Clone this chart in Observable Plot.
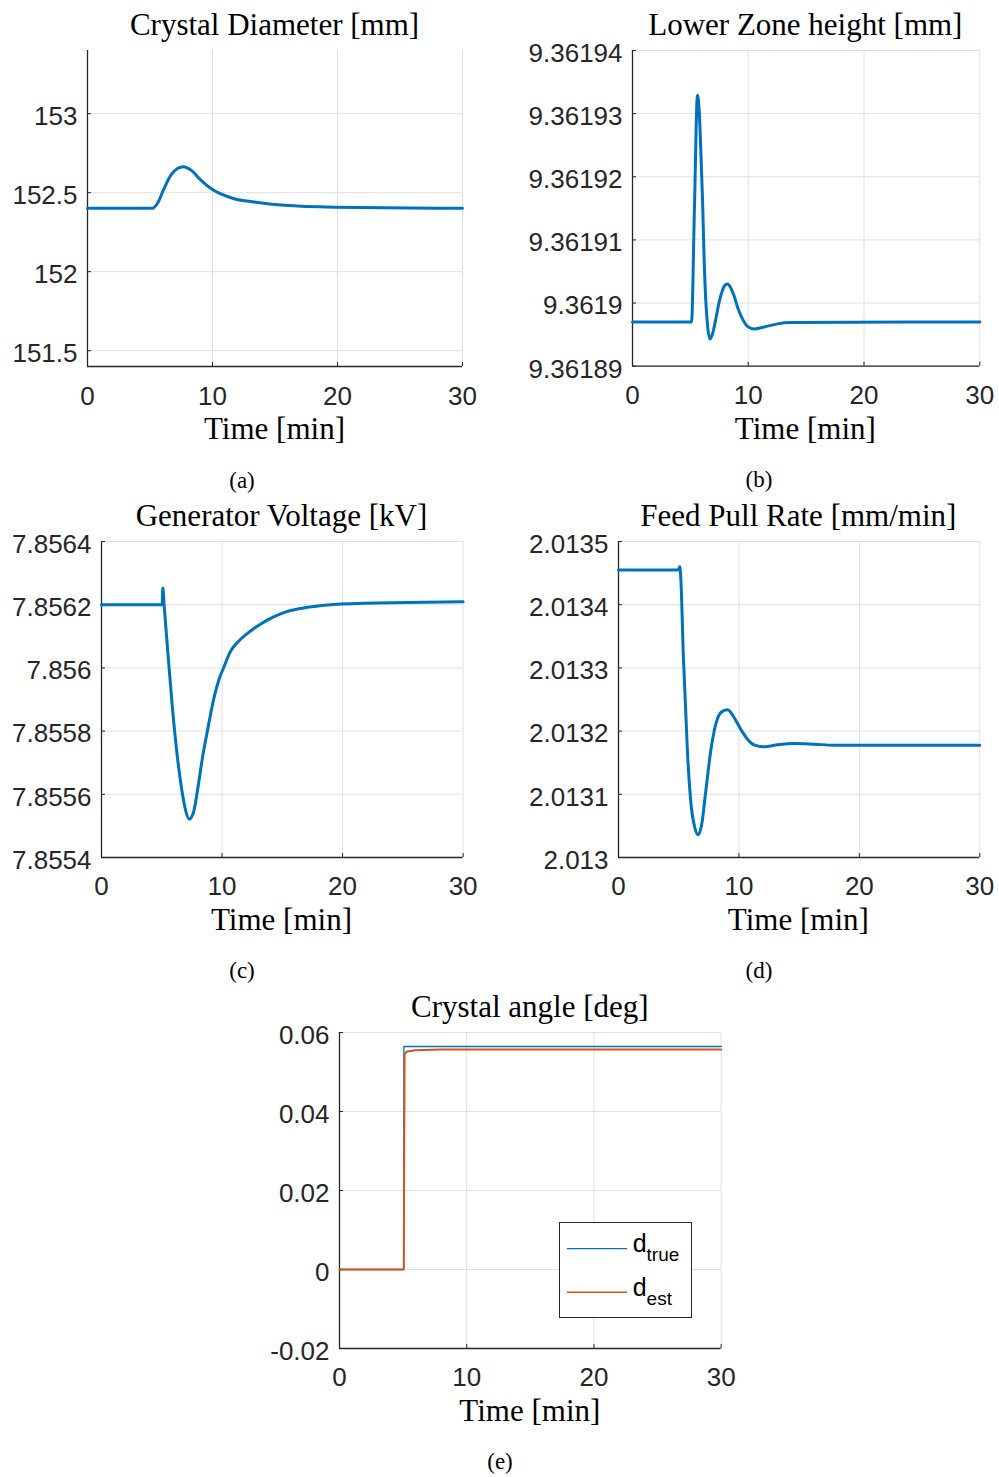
<!DOCTYPE html>
<html><head><meta charset="utf-8">
<script src="https://cdn.jsdelivr.net/npm/d3@7"></script>
<script src="https://cdn.jsdelivr.net/npm/@observablehq/plot@0.6"></script>
<style>
body{margin:0;background:#fff;}
#fig{position:relative;width:999px;height:1477px;background:#fff;overflow:hidden;}
.t{position:absolute;font-family:"Liberation Serif","Times New Roman",serif;color:#000;white-space:nowrap;line-height:1;transform:translateX(-50%);}
.p{position:absolute;}
.p text{font-family:"Liberation Sans",Arial,sans-serif;}
.lg{position:absolute;font-family:"Liberation Sans",Arial,sans-serif;color:#000;line-height:1;white-space:nowrap;}
</style></head><body><div id="fig"></div><script>
// ---------- data ----------
const timeTicks = [0, 10, 20, 30];
const timeTickLabels = ["0", "10", "20", "30"];

// (a) Crystal Diameter [mm]
const diamTime  = [0, 5.2, 5.6, 6.13, 6.67, 7.2, 7.68, 8.27, 9.07, 9.87, 10.67, 11.73, 13.33, 15.73, 19.73, 30];
const diamValue = [152.401, 152.401, 152.433, 152.527, 152.611, 152.653, 152.664, 152.643, 152.58, 152.527, 152.492, 152.462, 152.441, 152.42, 152.408, 152.401];
const diamTicks = [151.5, 152, 152.5, 153];
const diamTickLabels = ["151.5", "152", "152.5", "153"];

// (b) Lower Zone height [mm]
const lzTime  = [0, 5.1, 5.35, 5.61, 5.76, 5.9, 6.05, 6.19, 6.33, 6.48, 6.68, 6.91, 7.2, 7.49, 7.77, 7.97, 8.2, 8.49, 8.78, 9.12, 9.5, 9.93, 10.51, 11.37, 12.52, 13.67, 30];
const lzValue = [9.3618970, 9.3618970, 9.3619150, 9.3619329, 9.3619305, 9.3619242, 9.3619163, 9.3619068, 9.3619004, 9.3618965, 9.3618943, 9.3618951, 9.3618975, 9.3619002, 9.3619020, 9.3619028, 9.3619030, 9.3619024, 9.3619011, 9.3618991, 9.3618975, 9.3618963, 9.3618959, 9.3618962, 9.3618967, 9.3618969, 9.3618970];
const lzTicks = [9.36189, 9.3619, 9.36191, 9.36192, 9.36193, 9.36194];
const lzTickLabels = ["9.36189", "9.3619", "9.36191", "9.36192", "9.36193", "9.36194"];

// (c) Generator Voltage [kV]
const voltTime  = [0, 5.03, 5.09, 5.2, 5.47, 5.88, 6.3, 6.72, 6.99, 7.27, 7.63, 7.96, 8.38, 8.79, 9.34, 9.76, 10.12, 10.73, 11.28, 12.11, 13.21, 14.32, 15.43, 17.09, 19.85, 30];
const voltValue = [7.8562, 7.8562, 7.8562528, 7.8561968, 7.8560649, 7.8558749, 7.8557166, 7.8556005, 7.8555478, 7.8555214, 7.8555425, 7.8556111, 7.8557166, 7.8558010, 7.8559066, 7.8559646, 7.8559995, 7.8560543, 7.8560807, 7.8561092, 7.8561388, 7.8561620, 7.8561789, 7.8561916, 7.8562021, 7.8562095];
const voltTicks = [7.8554, 7.8556, 7.8558, 7.856, 7.8562, 7.8564];
const voltTickLabels = ["7.8554", "7.8556", "7.8558", "7.856", "7.8562", "7.8564"];

// (d) Feed Pull Rate [mm/min]
const feedTime  = [0, 4.95, 5.09, 5.17, 5.39, 5.72, 6.05, 6.33, 6.61, 6.89, 7.25, 7.66, 8.08, 8.5, 9.05, 9.6, 10.15, 10.71, 11.26, 12.09, 13.2, 14.58, 16.24, 17.9, 30];
const feedValue = [2.0134551, 2.0134551, 2.0134599, 2.013443, 2.0133164, 2.0131688, 2.0130791, 2.0130475, 2.0130359, 2.0130501, 2.0131055, 2.0131688, 2.013211, 2.0132294, 2.0132336, 2.0132215, 2.013203, 2.0131872, 2.0131783, 2.0131751, 2.0131783, 2.0131804, 2.0131793, 2.0131777, 2.0131777];
const feedTicks = [2.013, 2.0131, 2.0132, 2.0133, 2.0134, 2.0135];
const feedTickLabels = ["2.013", "2.0131", "2.0132", "2.0133", "2.0134", "2.0135"];

// (e) Crystal angle [deg]
const angleSeries = ["true", "est"];
const angleTrueTime  = [0, 5.05, 5.06, 30];
const angleTrueValue = [0, 0, 0.05646, 0.05646];
const angleEstTime  = [0, 5.05, 5.12, 5.3, 6, 8, 30];
const angleEstValue = [0, 0, 0.0545, 0.0552, 0.0555, 0.0557, 0.0557];
const angleTicks = [-0.02, 0, 0.02, 0.04, 0.06];
const angleTickLabels = ["-0.02", "0", "0.02", "0.04", "0.06"];

// ---------- layout ----------
const fig = document.getElementById("fig");
const BLUE = "#0072BD", ORANGE = "#D95319", AX = "#262626", GRID = "#e0e0e0";
const ML = 115, MR = 20, MT = 15, MB = 55;
const TICKFONT = 26;

function addText(txt, cx, baseline, size) {
  const d = document.createElement("div");
  d.className = "t";
  d.style.fontSize = size + "px";
  d.style.left = cx + "px";
  d.style.top = (baseline - 0.8375 * size) + "px";
  d.textContent = txt;
  fig.appendChild(d);
}

function panel(o) {
  const fw = o.x1 - o.x0, fh = o.y1 - o.y0;
  const [ya, yb] = o.yDomain;
  const tickY = (yb - ya) * 4 / fh;
  const tickX = 30 * 4 / fw;
  const yt = o.yTicks.map((v, i) => ({v, label: o.yLabels[i]}));
  const xt = timeTicks.map((v, i) => ({v, label: timeTickLabels[i]}));
  const lines = o.series.map(s => Plot.line(s.t.map((t, i) => ({t, v: s.v[i]})), {
    x: "t", y: "v", stroke: s.color, strokeWidth: s.width, curve: s.curve || "monotone-x", strokeLinejoin: "round"
  }));
  const svg = Plot.plot({
    width: fw + ML + MR, height: fh + MT + MB,
    marginLeft: ML, marginRight: MR, marginTop: MT, marginBottom: MB,
    x: {domain: [0, 30], axis: null},
    y: {domain: o.yDomain, axis: null},
    style: {background: "transparent", overflow: "visible"},
    marks: [
      Plot.gridY(o.yTicks, {stroke: GRID, strokeOpacity: 1, strokeWidth: 1}),
      Plot.gridX(timeTicks.filter(d => d > 0), {stroke: GRID, strokeOpacity: 1, strokeWidth: 1}),
      Plot.ruleY(o.yTicks, {y: d => d, x1: 0, x2: tickX, stroke: AX, strokeWidth: 1}),
      Plot.ruleX(timeTicks, {x: d => d, y1: ya, y2: ya + tickY, stroke: AX, strokeWidth: 1}),
      Plot.ruleX([0], {stroke: AX, strokeWidth: 1.3}),
      Plot.ruleY([ya], {stroke: AX, strokeWidth: 1.3}),
      ...lines,
      Plot.text(yt, {y: "v", text: "label", frameAnchor: "left", textAnchor: "end", lineAnchor: "middle", dx: -10, dy: 3, fontSize: TICKFONT, fill: AX}),
      Plot.text(xt, {x: "v", text: "label", frameAnchor: "bottom", textAnchor: "middle", lineAnchor: "bottom", dy: 38, fontSize: TICKFONT, fill: AX})
    ]
  });
  svg.classList.add("p");
  svg.style.left = (o.x0 - ML) + "px";
  svg.style.top = (o.y0 - MT) + "px";
  fig.appendChild(svg);
  const cx = (o.x0 + o.x1) / 2;
  addText(o.title, cx, o.y0 - 15, 31);
  addText("Time [min]", cx, o.y1 + 73, 31);
  if (o.caption) addText(o.caption, o.capX, o.y1 + 122, 23);
}

panel({x0: 87, x1: 462, y0: 50, y1: 366, yDomain: [151.4, 153.4], yTicks: diamTicks, yLabels: diamTickLabels,
  series: [{t: diamTime, v: diamValue, color: BLUE, width: 3}], title: "Crystal Diameter [mm]", caption: "(a)", capX: 242});
panel({x0: 631.7, x1: 979, y0: 50, y1: 365.7, yDomain: [9.36189, 9.36194], yTicks: lzTicks, yLabels: lzTickLabels,
  series: [{t: lzTime, v: lzValue, color: BLUE, width: 3}], title: "Lower Zone height [mm]", caption: "(b)", capX: 759});
panel({x0: 100.7, x1: 462.3, y0: 540.7, y1: 856.7, yDomain: [7.8554, 7.8564], yTicks: voltTicks, yLabels: voltTickLabels,
  series: [{t: voltTime, v: voltValue, color: BLUE, width: 3}], title: "Generator Voltage [kV]", caption: "(c)", capX: 242});
panel({x0: 617.7, x1: 979, y0: 540.7, y1: 856.7, yDomain: [2.013, 2.0135], yTicks: feedTicks, yLabels: feedTickLabels,
  series: [{t: feedTime, v: feedValue, color: BLUE, width: 3}], title: "Feed Pull Rate [mm/min]", caption: "(d)", capX: 759});
panel({x0: 339, x1: 720.7, y0: 1031.7, y1: 1347.7, yDomain: [-0.02, 0.06], yTicks: angleTicks, yLabels: angleTickLabels,
  series: [
    {t: angleTrueTime, v: angleTrueValue, color: BLUE, width: 1.3, curve: "linear"},
    {t: angleEstTime, v: angleEstValue, color: ORANGE, width: 1.9, curve: "linear"}
  ], title: "Crystal angle [deg]", caption: "(e)", capX: 500});

// legend for (e)
const lg = document.createElement("div");
lg.style.cssText = "position:absolute;left:558.7px;top:1221.7px;width:131px;height:94.6px;border:1px solid #262626;background:#fff;";
fig.appendChild(lg);
const legendColors = [BLUE, ORANGE];
const legendY = [25.6, 69.3];
const ns = "http://www.w3.org/2000/svg";
const lsvg = document.createElementNS(ns, "svg");
lsvg.setAttribute("width", "131");
lsvg.setAttribute("height", "95");
lsvg.style.cssText = "position:absolute;left:0;top:0;";
lg.appendChild(lsvg);
angleSeries.forEach((sub, i) => {
  const ln = document.createElementNS(ns, "line");
  ln.setAttribute("x1", 7); ln.setAttribute("x2", 67);
  ln.setAttribute("y1", legendY[i]); ln.setAttribute("y2", legendY[i]);
  ln.setAttribute("stroke", legendColors[i]); ln.setAttribute("stroke-width", 1.4);
  lsvg.appendChild(ln);
  const d = document.createElement("div");
  d.className = "lg";
  d.style.left = "73px";
  d.style.top = (legendY[i] - 17) + "px";
  d.innerHTML = `<span style="font-size:25px">d</span><span style="font-size:19px;position:relative;top:9px;">${sub}</span>`;
  lg.appendChild(d);
});
</script></body></html>
